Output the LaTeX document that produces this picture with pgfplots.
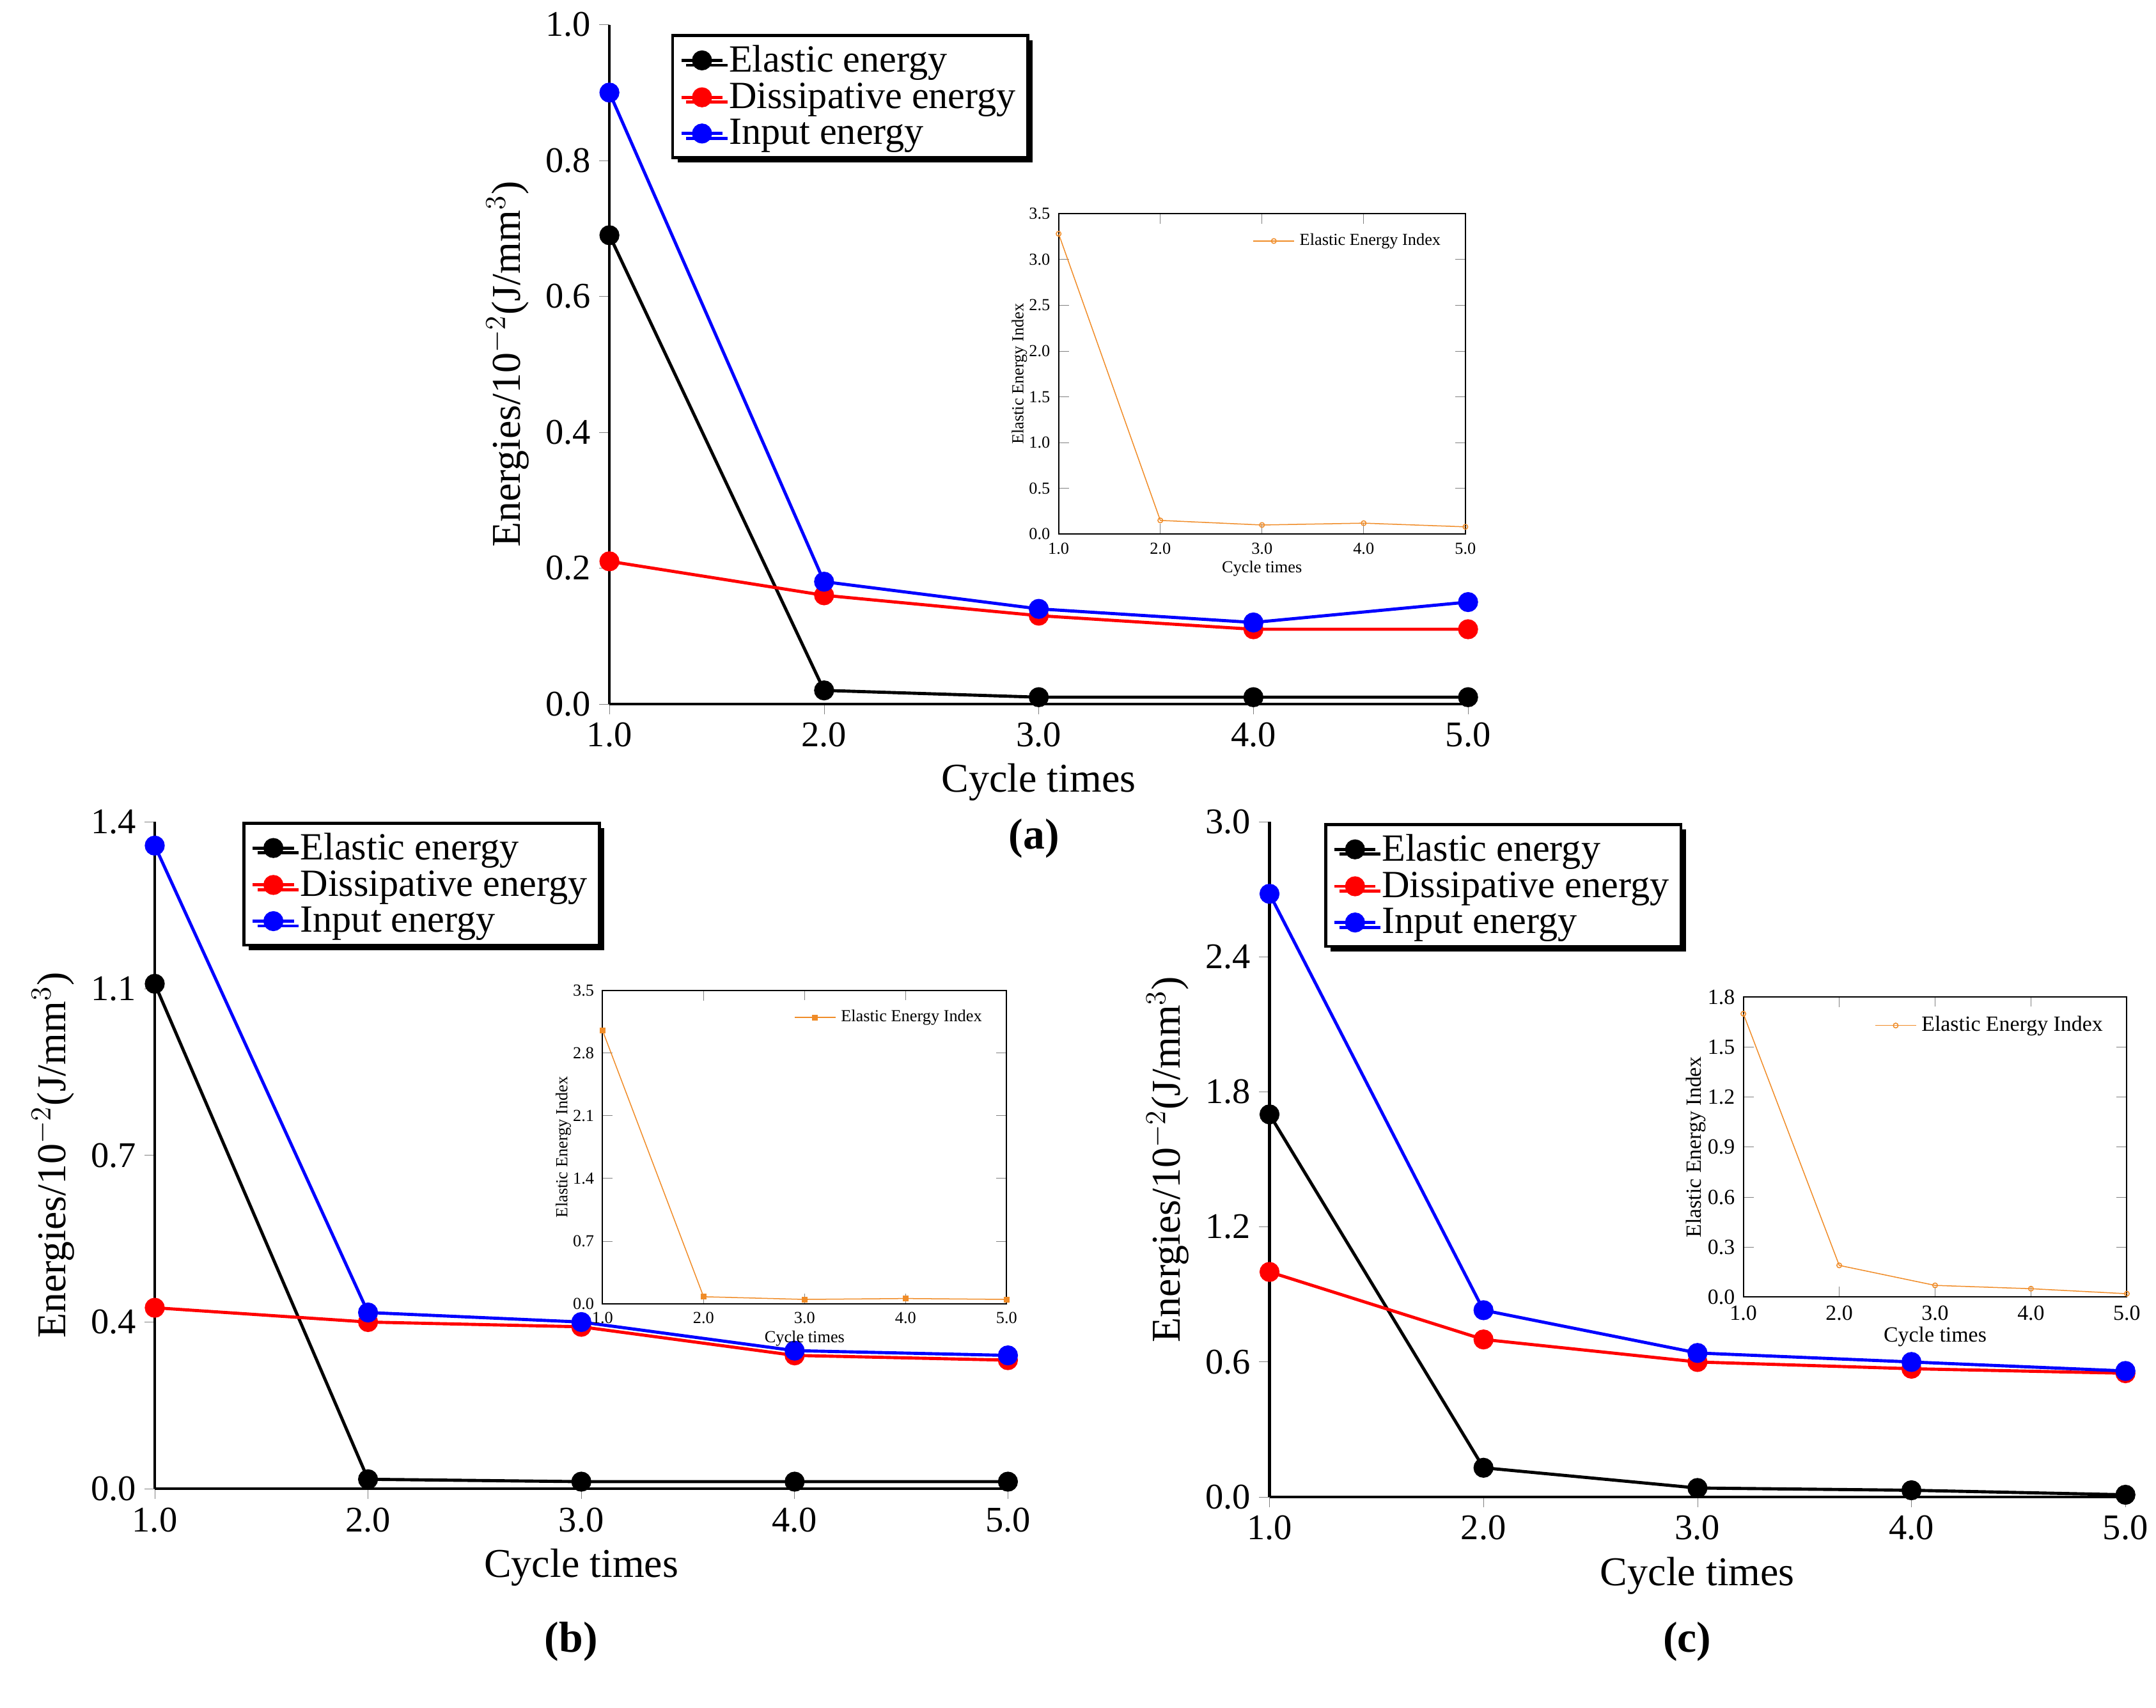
\documentclass[border=0pt]{standalone}
\usepackage{pgfplots}
\pgfplotsset{compat=1.18}
\usepackage{fontspec}
\setmainfont{Liberation Serif}
\definecolor{org}{RGB}{240,140,40}
\pgfplotsset{
 main/.style={axis lines=left, axis line style={-, line width=1.2pt}, tick align=outside, scale only axis,
  xmin=1,xmax=5,xtick={1,2,3,4,5}, ymin=0, clip=false,
  /pgf/number format/assume math mode=true, /pgf/number format/fixed, /pgf/number format/precision=1, /pgf/number format/fixed zerofill,
  tick label style={font=\fontsize{15}{18}\selectfont}, label style={font=\fontsize{17}{20}\selectfont},
  xlabel={Cycle times}, ylabel={Energies/10$^{-2}$(J/mm$^3$)},
  legend style={font=\fontsize{16}{19}\selectfont, draw=black, line width=1.2pt, anchor=north west, row sep=-1pt,
   drop shadow={shadow xshift=2pt, shadow yshift=-2pt, fill=black, opacity=1}},
  legend cell align=left, every axis plot/.append style={line width=1.3pt, mark size=3.5pt}},
 ins/.style={scale only axis, xmin=1,xmax=5,xtick={1,2,3,4,5}, ymin=0, axis line style={line width=0.5pt},
  /pgf/number format/assume math mode=true, /pgf/number format/fixed, /pgf/number format/precision=1, /pgf/number format/fixed zerofill,
  tick label style={font=\fontsize{7}{8}\selectfont}, label style={font=\fontsize{7}{8}\selectfont},
  xlabel={Cycle times}, ylabel={Elastic Energy Index}, xlabel shift=-4pt, ylabel shift=-6pt,
  legend style={font=\fontsize{7}{8}\selectfont, draw=none, at={(0.97,0.97)}, anchor=north east}, legend cell align=left, tick align=inside}
}
\usetikzlibrary{shadows}
\begin{document}
\begin{tikzpicture}
\path (0,0) rectangle (31.36,24.94);
% (a)
\begin{axis}[main, at={(8.9cm,14.66cm)}, width=12.54cm, height=9.92cm, ymax=1.0, ytick={0,0.2,...,1.0},
 legend style={at={(0.072,0.986)}}]
\addplot[black, mark=*] coordinates {(1,0.69)(2,0.02)(3,0.01)(4,0.01)(5,0.01)};
\addplot[red, mark=*] coordinates {(1,0.21)(2,0.16)(3,0.13)(4,0.11)(5,0.11)};
\addplot[blue, mark=*] coordinates {(1,0.90)(2,0.18)(3,0.14)(4,0.12)(5,0.15)};
\legend{Elastic energy, Dissipative energy, Input energy}
\end{axis}
\node[font=\bfseries\fontsize{18}{20}\selectfont] at (15.1,12.7) {(a)};
\begin{axis}[ins, at={(15.46cm,17.14cm)}, width=5.94cm, height=4.68cm, ymax=3.5, ytick={0,0.5,...,3.5}]
\addplot[org, mark=o, mark size=1pt] coordinates {(1,3.28)(2,0.15)(3,0.10)(4,0.12)(5,0.08)};
\legend{Elastic Energy Index}
\end{axis}
% (b)
\begin{axis}[main, at={(2.26cm,3.2cm)}, width=12.46cm, height=9.74cm, ymax=1.4, ytick={0,0.35,0.7,1.05,1.4}, yticklabels={0.0,0.4,0.7,1.1,1.4},
 legend style={at={(0.103,1.0)}}]
\addplot[black, mark=*] coordinates {(1,1.06)(2,0.02)(3,0.015)(4,0.015)(5,0.015)};
\addplot[red, mark=*] coordinates {(1,0.38)(2,0.35)(3,0.34)(4,0.28)(5,0.27)};
\addplot[blue, mark=*] coordinates {(1,1.35)(2,0.37)(3,0.35)(4,0.29)(5,0.28)};
\legend{Elastic energy, Dissipative energy, Input energy}
\end{axis}
\node[font=\bfseries\fontsize{18}{20}\selectfont] at (8.34,0.97) {(b)};
\begin{axis}[ins, at={(8.8cm,5.9cm)}, width=5.9cm, height=4.58cm, ymax=3.5, ytick={0,0.7,...,3.5}]
\addplot[org, mark=square*, mark size=1pt] coordinates {(1,3.05)(2,0.08)(3,0.05)(4,0.06)(5,0.05)};
\legend{Elastic Energy Index}
\end{axis}
% (c)
\begin{axis}[main, at={(18.54cm,3.08cm)}, width=12.5cm, height=9.86cm, ymax=3.0, ytick={0,0.6,...,3.0},
 legend style={at={(0.064,0.998)}}]
\addplot[black, mark=*] coordinates {(1,1.70)(2,0.13)(3,0.04)(4,0.03)(5,0.01)};
\addplot[red, mark=*] coordinates {(1,1.0)(2,0.70)(3,0.60)(4,0.57)(5,0.55)};
\addplot[blue, mark=*] coordinates {(1,2.68)(2,0.83)(3,0.64)(4,0.60)(5,0.56)};
\legend{Elastic energy, Dissipative energy, Input energy}
\end{axis}
\node[font=\bfseries\fontsize{18}{20}\selectfont] at (24.64,0.97) {(c)};
\begin{axis}[ins, at={(25.46cm,6.0cm)}, width=5.6cm, height=4.38cm, ymax=1.8, ytick={0,0.3,...,1.8},
 tick label style={font=\fontsize{9}{10}\selectfont}, label style={font=\fontsize{9}{10}\selectfont}, legend style={font=\fontsize{9}{10}\selectfont}]
\addplot[org, mark=o, mark size=1pt] coordinates {(1,1.70)(2,0.19)(3,0.07)(4,0.05)(5,0.02)};
\legend{Elastic Energy Index}
\end{axis}
\end{tikzpicture}
\end{document}
